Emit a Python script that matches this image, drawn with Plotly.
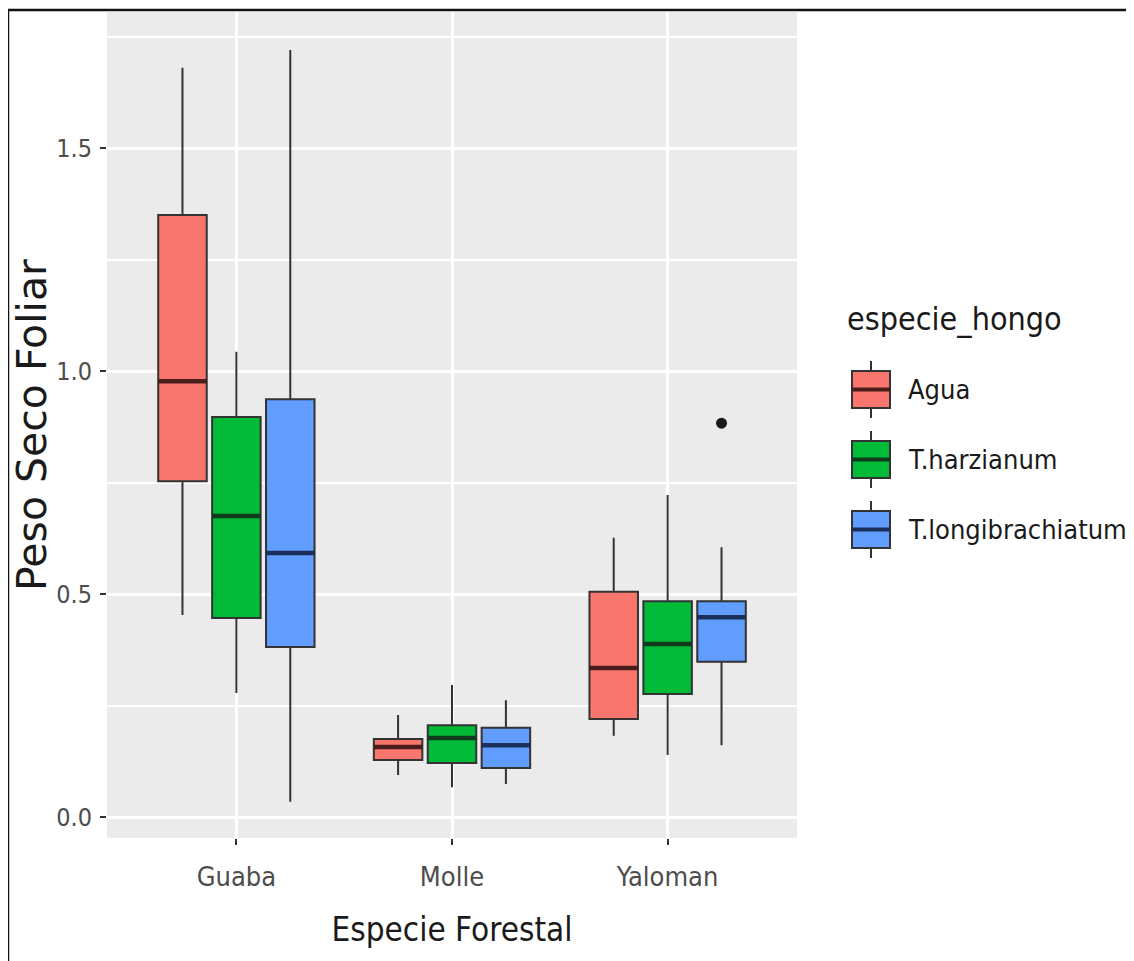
import plotly.graph_objects as go

# ---------------- data ----------------
categorias = ["Guaba", "Molle", "Yaloman"]
hongos = ["Agua", "T.harzianum", "T.longibrachiatum"]
colores = ["#F8766D", "#00BA38", "#619CFF"]
colores_mediana = ["#4a1c1a", "#0f3a1c", "#1c2f5a"]

# per fungus species, values for Guaba, Molle, Yaloman
agua_lower = [0.453, 0.094, 0.182]
agua_q1 = [0.753, 0.128, 0.220]
agua_median = [0.977, 0.157, 0.334]
agua_q3 = [1.350, 0.175, 0.505]
agua_upper = [1.680, 0.229, 0.626]

harz_lower = [0.278, 0.067, 0.139]
harz_q1 = [0.446, 0.121, 0.276]
harz_median = [0.675, 0.177, 0.388]
harz_q3 = [0.897, 0.206, 0.484]
harz_upper = [1.043, 0.296, 0.722]

longi_lower = [0.034, 0.074, 0.161]
longi_q1 = [0.381, 0.110, 0.348]
longi_median = [0.592, 0.161, 0.448]
longi_q3 = [0.937, 0.200, 0.484]
longi_upper = [1.720, 0.262, 0.605]

# outliers: (fungus index, category index, value)
outlier_hongo = [2]
outlier_cat = [2]
outlier_val = [0.883]

y_tickvals = [0.0, 0.5, 1.0, 1.5]
y_ticktext = ["0.0", "0.5", "1.0", "1.5"]

stats = [
    (agua_lower, agua_q1, agua_median, agua_q3, agua_upper),
    (harz_lower, harz_q1, harz_median, harz_q3, harz_upper),
    (longi_lower, longi_q1, longi_median, longi_q3, longi_upper),
]

# ---------------- style ----------------
NARROW = "Liberation Sans Narrow, DejaVu Sans Condensed, Arial Narrow, sans-serif"
OUTLINE = "#333333"
dodge = 0.25
box_w = 0.225

fig = go.Figure()

for j, (lo, q1, med, q3, hi) in enumerate(stats):
    xs = [i + (j - 1) * dodge for i in range(len(categorias))]
    fig.add_trace(go.Box(
        x=xs, lowerfence=lo, q1=q1, median=med, q3=q3, upperfence=hi,
        width=box_w, whiskerwidth=0, boxpoints=False,
        fillcolor=colores[j], line=dict(color=OUTLINE, width=2),
        name=hongos[j], showlegend=False,
    ))
    # thicker median line (ggplot fatten)
    mx, my = [], []
    for x0, m in zip(xs, med):
        mx += [x0 - box_w / 2, x0 + box_w / 2, None]
        my += [m, m, None]
    fig.add_trace(go.Scatter(x=mx, y=my, mode="lines",
                             line=dict(color=colores_mediana[j], width=4.5),
                             showlegend=False, hoverinfo="skip"))

# outliers
fig.add_trace(go.Scatter(
    x=[c + (h - 1) * dodge for h, c in zip(outlier_hongo, outlier_cat)],
    y=outlier_val, mode="markers",
    marker=dict(color="#1a1a1a", size=11),
    showlegend=False,
))

# ---------------- layout ----------------
# page body has an 8px margin: figure starts at (8, 8) in the window
OFF = 8
W, H = 1134 - OFF, 961 - OFF
PANEL_L, PANEL_R, PANEL_T, PANEL_B = 107, 797, 12, 838   # window pixels
L, T = PANEL_L - OFF, PANEL_T - OFF
R, B = 1134 - PANEL_R, 961 - PANEL_B
pw, ph = PANEL_R - PANEL_L, PANEL_B - PANEL_T

def px(xw):
    return (xw - PANEL_L) / pw

def py(yw):
    return (PANEL_B - yw) / ph

shapes = []
annotations = []

# custom legend (ggplot style keys)
legend_title_y = 319
key_top0 = 371
key_step = 70
for j, name in enumerate(hongos):
    top = key_top0 + j * key_step
    bot = top + 37
    mid = (top + bot) / 2
    cx = 871
    shapes.append(dict(type="line", xref="paper", yref="paper",
                       x0=px(cx), x1=px(cx), y0=py(top - 10), y1=py(bot + 10),
                       line=dict(color=OUTLINE, width=2)))
    shapes.append(dict(type="rect", xref="paper", yref="paper",
                       x0=px(852), x1=px(890), y0=py(bot), y1=py(top),
                       fillcolor=colores[j], line=dict(color=OUTLINE, width=2)))
    shapes.append(dict(type="line", xref="paper", yref="paper",
                       x0=px(852), x1=px(890), y0=py(mid), y1=py(mid),
                       line=dict(color=colores_mediana[j], width=4)))
    annotations.append(dict(text=name, xref="paper", yref="paper",
                            x=px(906), y=py(mid), xanchor="left", yanchor="middle",
                            showarrow=False,
                            font=dict(family=NARROW, size=27, color="#1a1a1a")))

annotations.append(dict(text="especie_hongo", xref="paper", yref="paper",
                        x=px(845), y=py(legend_title_y), xanchor="left", yanchor="middle",
                        showarrow=False,
                        font=dict(family=NARROW, size=32, color="#1a1a1a")))

# outer black frame of the image
shapes.append(dict(type="rect", xref="paper", yref="paper",
                   x0=px(8), x1=px(1160), y0=py(1000), y1=py(10),
                   line=dict(color="#111111", width=2.5), layer="above"))

fig.update_layout(
    width=W, height=H,
    margin=dict(l=L, r=R, t=T, b=B, autoexpand=False),
    paper_bgcolor="white",
    plot_bgcolor="#EBEBEB",
    boxmode="overlay",
    showlegend=False,
    shapes=shapes,
    annotations=annotations,
    xaxis=dict(
        range=[-0.6, 2.6],
        tickmode="array", tickvals=list(range(len(categorias))), ticktext=categorias,
        showgrid=True, gridcolor="white", gridwidth=2.6,
        zeroline=False, showline=False,
        ticks="outside", ticklen=6, tickwidth=1.6, tickcolor="#333333",
        ticklabelstandoff=9,
        tickfont=dict(family=NARROW, size=27, color="#4D4D4D"),
        title=dict(text="Especie Forestal", standoff=26,
                   font=dict(family=NARROW, size=33, color="#1a1a1a")),
    ),
    yaxis=dict(
        range=[-0.047, 1.805],
        tickmode="array", tickvals=y_tickvals, ticktext=y_ticktext,
        showgrid=True, gridcolor="white", gridwidth=2.6,
        minor=dict(tickmode="array", tickvals=[0.25, 0.75, 1.25, 1.75],
                   showgrid=True, gridcolor="white", gridwidth=1.6, ticks=""),
        zeroline=False, showline=False,
        ticks="outside", ticklen=6, tickwidth=1.6, tickcolor="#333333",
        ticklabelstandoff=3,
        tickfont=dict(family=NARROW, size=25, color="#4D4D4D"),
        title=dict(text="Peso Seco Foliar", standoff=2,
                   font=dict(family="DejaVu Sans, sans-serif", size=41, color="#1a1a1a")),
    ),
)

fig.write_html("out.html")
